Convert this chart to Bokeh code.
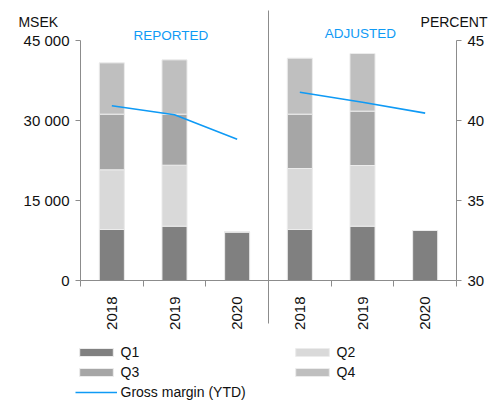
import math
from bokeh.plotting import figure
from bokeh.models import (ColumnDataSource, Range1d, LinearAxis, FixedTicker, Label,
                          Arrow, Legend, LegendItem)
from bokeh.embed import file_html
from bokeh.resources import INLINE

# ---- data ----
years = ["2018", "2019", "2020", "2018", "2019", "2020"]
panel_titles = ["REPORTED", "ADJUSTED"]
q1 = [9560, 10190, 9130, 9560, 10190, 9380]
q2 = [11200, 11430, 0, 11440, 11370, 0]
q3 = [10430, 9570, 0, 10190, 10190, 0]
q4 = [9620, 10180, 0, 10500, 10810, 0]
margin_reported = [40.92, 40.36, 38.83]
margin_adjusted = [41.77, 41.14, 40.46]
sek_ticks = [0, 15000, 30000, 45000]
sek_labels = ["0", "15 000", "30 000", "45 000"]
pct_ticks = [30, 35, 40, 45]
series_names = ["Q1", "Q2", "Q3", "Q4"]
line_name = "Gross margin (YTD)"

# ---- styles ----
FONT = "Liberation Sans"
BLUE = "#0f9af5"
GREY_AX = "#8c8c8c"
TXT = "#111111"
bar_colors = ["#808080", "#d9d9d9", "#a6a6a6", "#bfbfbf"]

W, H = 503, 400
# frame covers whole canvas; axes drawn at fixed locations inside it
X0_PX, XCAT_PX = 80, 376 / 6          # left axis position, px per category
Y0_PX, YTOP_PX = 280, 40              # pixel rows of y=0 and y=45000
sek_per_px = 45000 / (Y0_PX - YTOP_PX)
pct_per_px = 15 / (Y0_PX - YTOP_PX)

x_range = Range1d(-X0_PX / XCAT_PX, (W - X0_PX) / XCAT_PX)
y_range = Range1d(-(H - Y0_PX) * sek_per_px, 45000 + YTOP_PX * sek_per_px)
pct_range = Range1d(30 - (H - Y0_PX) * pct_per_px, 45 + YTOP_PX * pct_per_px)

centers = [i + 0.5 for i in range(len(years))]
src = ColumnDataSource(dict(x=centers, Q1=q1, Q2=q2, Q3=q3, Q4=q4))

p = figure(width=W, height=H, x_range=x_range, y_range=y_range,
           output_backend="svg", toolbar_location=None,
           x_axis_location=None, y_axis_location=None, min_border=0)
p.title.visible = False
p.outline_line_color = None
p.xgrid.grid_line_color = None
p.ygrid.grid_line_color = None
p.extra_y_ranges = {"pct": pct_range}

bars = p.vbar_stack(series_names, x="x", width=0.4, source=src, color=bar_colors,
                    line_color="#ececec", line_width=1)

l1 = p.line(x=centers[:3], y=margin_reported, y_range_name="pct", line_color=BLUE, line_width=1.6)
l2 = p.line(x=centers[3:], y=margin_adjusted, y_range_name="pct", line_color=BLUE, line_width=1.6)


def style_axis(ax):
    ax.axis_line_color = GREY_AX
    ax.major_tick_line_color = GREY_AX
    ax.minor_tick_line_color = None
    ax.major_tick_in = 0
    ax.major_tick_out = 5
    ax.major_label_text_font = FONT
    ax.major_label_text_font_size = "15px"
    ax.major_label_text_color = TXT
    ax.major_label_standoff = 6


# left axis
ya = LinearAxis(ticker=FixedTicker(ticks=sek_ticks), fixed_location=0, bounds=(0, 45000))
style_axis(ya)
ya.major_label_overrides = {t: s for t, s in zip(sek_ticks, sek_labels)}
p.add_layout(ya, "left")

# right axis
ra = LinearAxis(y_range_name="pct", ticker=FixedTicker(ticks=pct_ticks), fixed_location=6,
                bounds=(30, 45))
style_axis(ra)
p.add_layout(ra, "right")

# bottom axis
xa = LinearAxis(ticker=FixedTicker(ticks=centers, minor_ticks=list(range(len(years) + 1))),
                fixed_location=0, bounds=(0, 6))
style_axis(xa)
xa.major_label_overrides = {c: y for c, y in zip(centers, years)}
xa.major_tick_line_color = None
xa.major_tick_out = 0
xa.minor_tick_in = 0
xa.minor_tick_out = 6
xa.minor_tick_line_color = GREY_AX
xa.major_label_orientation = math.pi / 2
xa.major_label_standoff = 10
p.add_layout(xa, "below")

# divider between panels
p.add_layout(Arrow(end=None, x_start=3, y_start=-(323 - Y0_PX) * sek_per_px,
                   x_end=3, y_end=(Y0_PX - 10) * sek_per_px,
                   line_color=GREY_AX, line_width=1))

# texts
p.add_layout(Label(x=-0.99, y=48430, text="MSEK", text_font=FONT, text_font_size="14px",
                   text_color=TXT, text_baseline="alphabetic"))
p.add_layout(Label(x=6.494, y=48430, text="PERCENT", text_font=FONT, text_font_size="14px",
                   text_color=TXT, text_align="right", text_baseline="alphabetic"))
p.add_layout(Label(x=1.444, y=45940, text=panel_titles[0], text_font=FONT, text_font_size="13.5px",
                   text_color=BLUE, text_align="center", text_baseline="alphabetic"))
p.add_layout(Label(x=4.468, y=46250, text=panel_titles[1], text_font=FONT, text_font_size="13.5px",
                   text_color=BLUE, text_align="center", text_baseline="alphabetic"))

# legend
items = [LegendItem(label=n, renderers=[r]) for n, r in zip(series_names, bars)]
items.append(LegendItem(label=line_name, renderers=[l1]))
legend = Legend(items=items, orientation="horizontal", ncols=2, location=(74.5, -2),
                glyph_width=42, glyph_height=10, label_height=20, label_width=170,
                label_standoff=4, spacing=0, padding=0, margin=0,
                border_line_color=None, background_fill_alpha=0,
                label_text_font=FONT, label_text_font_size="14px", label_text_color=TXT)
p.add_layout(legend)

open("out.html", "w").write(file_html(p, INLINE))
